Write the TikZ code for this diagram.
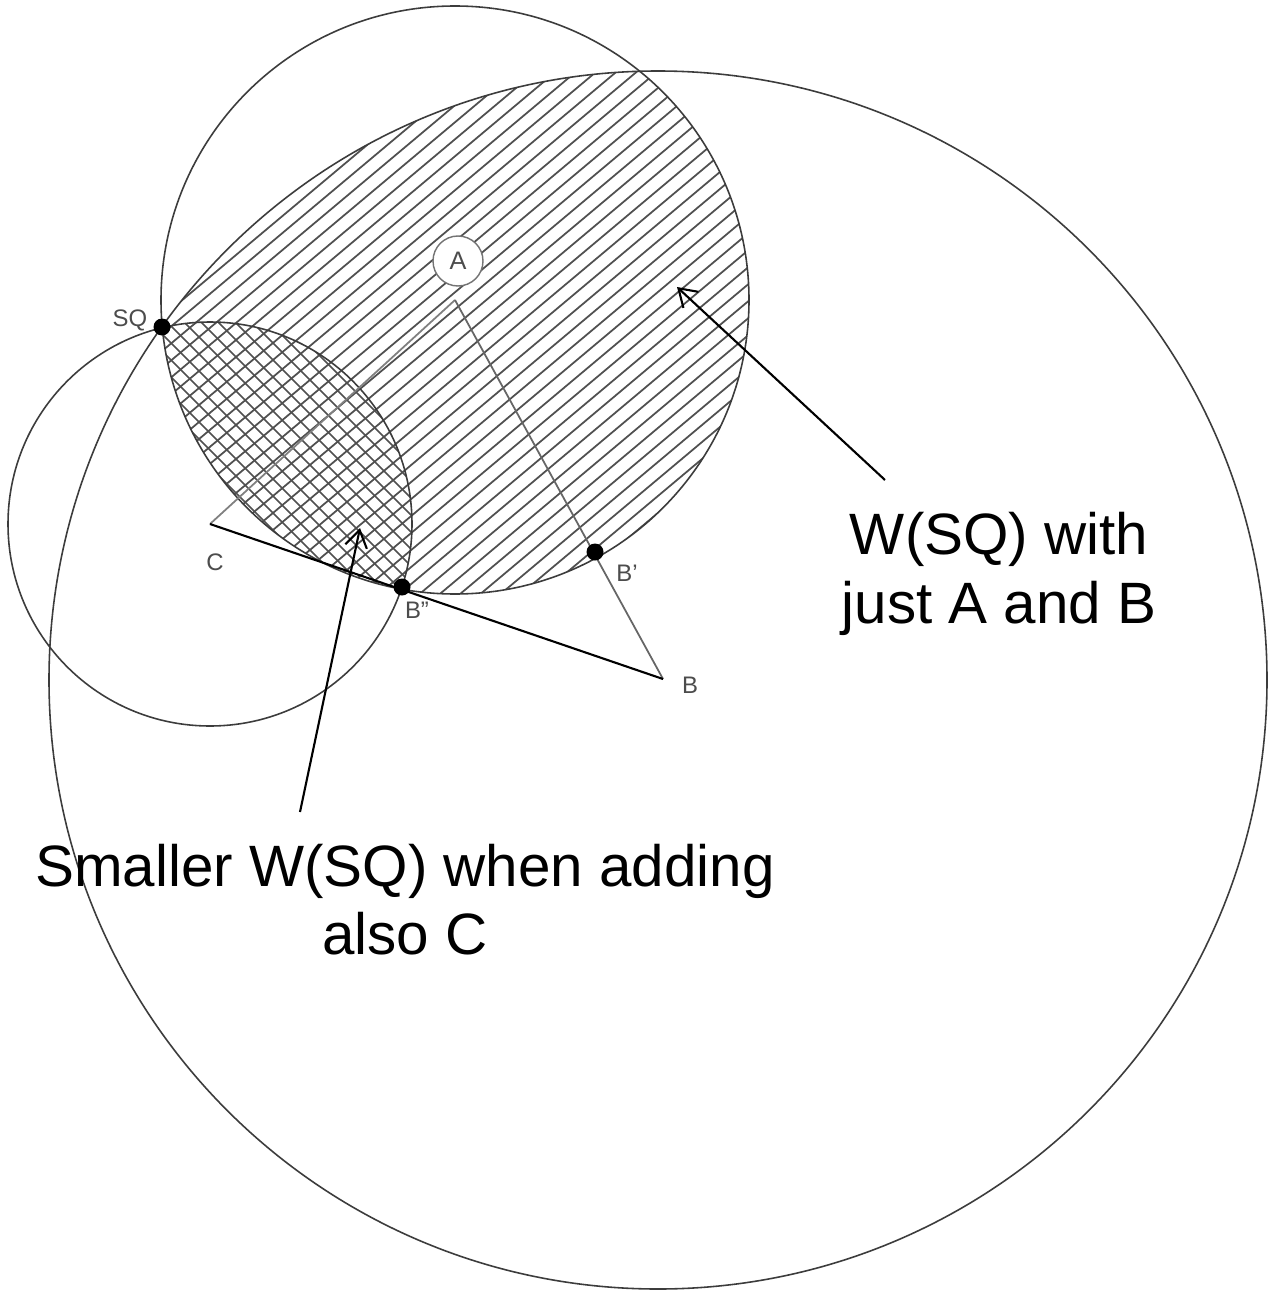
\documentclass[tikz,border=0pt]{standalone}
\usepackage{fontspec}
\setmainfont{Liberation Sans}
\usetikzlibrary{arrows.meta,calc}
\definecolor{penline}{HTML}{3C3C3C}
\definecolor{hatchgray}{HTML}{505050}
\tikzset{
  ring/.style={draw=penline, line width=0.45pt},
  hatch/.style={draw=hatchgray, line width=0.5pt},
  seg/.style={draw=black!60, line width=0.5pt},
  dot/.style={circle, fill=black, inner sep=0pt, minimum size=1.7mm},
  ptlab/.style={font=\fontsize{6.8}{8}\selectfont, text=black!70, inner sep=1pt},
  note/.style={font=\fontsize{16.6}{19.4}\selectfont, align=center, inner sep=0pt},
  ptr/.style={-{Straight Barb[length=1.7mm, width=2.2mm]}, line width=0.6pt},
}

\begin{document}
\begin{tikzpicture}[x=0.1mm, y=-0.1mm]
    \fill[white] (0,0) rectangle (1268,1295);
    \useasboundingbox (0,0) rectangle (1268,1295);
    % centres
    \coordinate (A) at (455,300);
    \coordinate (B) at (663,679);
    \coordinate (C) at (210,524);
    \coordinate (Bc) at (658,680);
    % W(SQ) for A and B
    \begin{scope}
      \clip (A) circle (294);
      \clip (Bc) circle (609);
      \foreach \c in {130,147,...,1240}
        \draw[hatch] (100,{\c-83.9}) -- (800,{\c-671.2});
    \end{scope}
    % smaller W(SQ) with C too
    \begin{scope}
      \clip (A) circle (294);
      \clip (C) circle (202);
      \foreach \c in {-100,-83,...,460}
        \draw[hatch] (120,{\c+120}) -- (460,{\c+460});
    \end{scope}
    % circles
    \draw[ring] (A) circle (294);
    \draw[ring] (Bc) circle (609);
    \draw[ring] (C) circle (202);
    % segments
    \draw[seg, draw=black!50] (A) -- (C);
    \draw[seg] (A) -- (B);
    \draw[line width=0.6pt] (C) -- (B);
    % points
    \node[circle, draw=black!55, fill=white, minimum size=5mm, inner sep=0pt,
      font=\fontsize{7.2}{8}\selectfont, text=black!70] (alab) at (458,261) {A};
    \node[dot] (sq) at (162,327) {};
    \node[dot] (bpp) at (402,587) {};
    \node[dot] (bp) at (595,552) {};
    \node[ptlab] (sqlab) at (130,320) {SQ};
    \node[ptlab] (clab) at (215,562) {C};
    \node[ptlab] (blab) at (690,685) {B};
    \node[ptlab] (bplab) at (627,573) {B'};
    \node[ptlab] (bpplab) at (417,610) {B''};
    % notes
    \node[note] (wab) at (999,574) {W(SQ) with\\just A and B};
    \node[note] (wc) at (405,900) {Smaller W(SQ) when adding\\also C};
    \coordinate (t1) at (885,480);
    \coordinate (h1) at (677,287);
    \coordinate (t2) at (300,812);
    \coordinate (h2) at (360,528);
    \draw[ptr] (t1) -- (h1);
    \draw[ptr] (t2) -- (h2);
  \end{tikzpicture}
\end{document}
